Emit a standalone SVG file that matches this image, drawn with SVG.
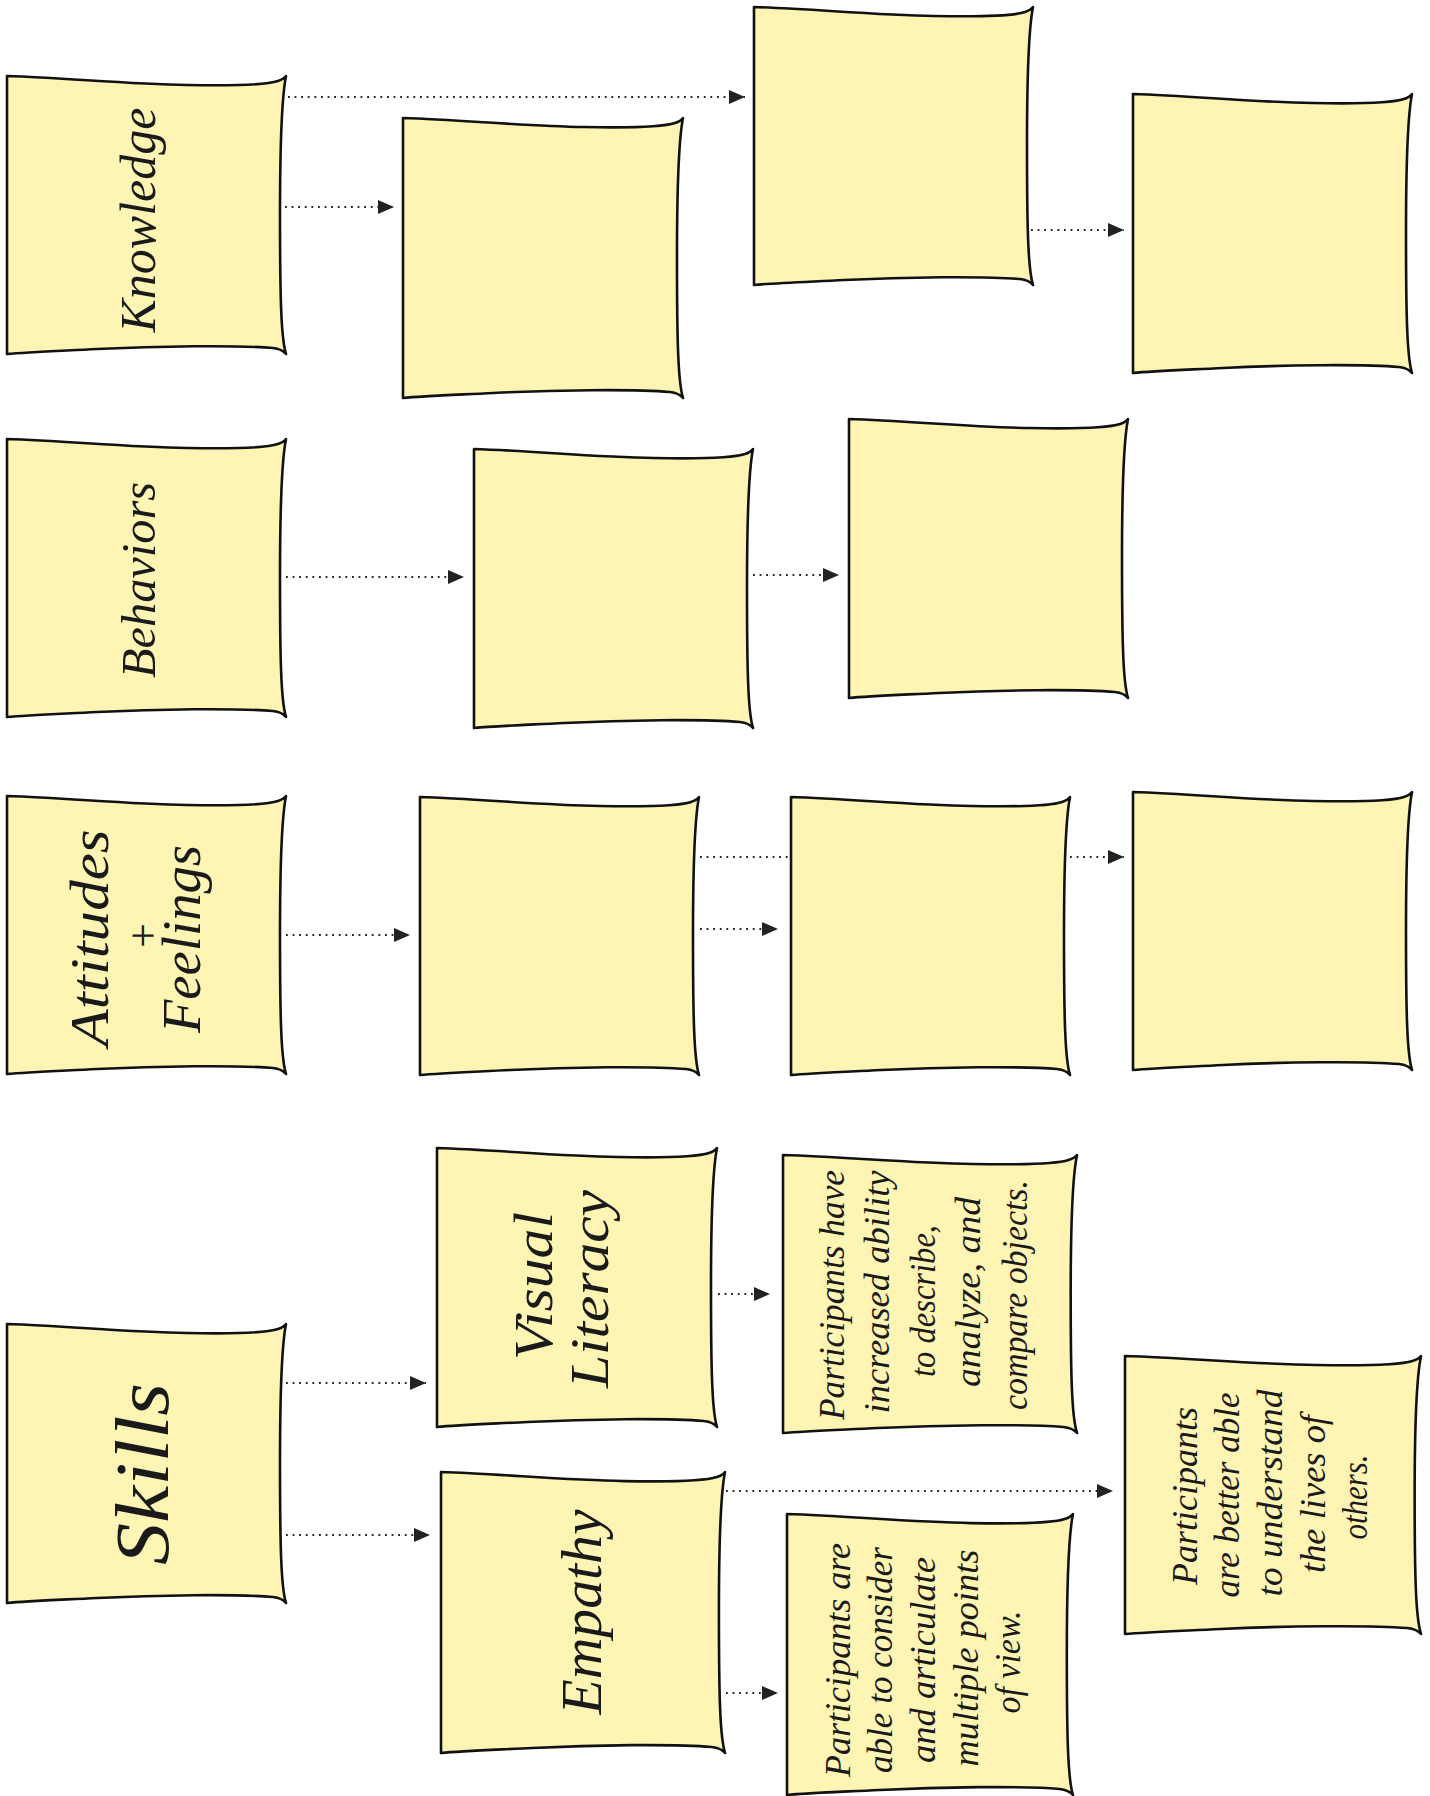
<svg xmlns="http://www.w3.org/2000/svg" xmlns:xlink="http://www.w3.org/1999/xlink" width="1430" height="1796" viewBox="0 0 1430 1796">
<style>
.note{fill:#FEF4B3;stroke:#111;stroke-width:2.6;stroke-linejoin:round;vector-effect:non-scaling-stroke}
.hand{font-family:"Liberation Serif","DejaVu Serif",serif;font-style:italic;fill:#1a1a1a;text-anchor:middle}
.conn{stroke:#222;stroke-width:1.8;stroke-dasharray:1.8 4.8;fill:none}
</style>
<defs>
<path id="note" class="note" d="M0,0 C60,2 120,8 180,9 C230,10 262,8 271,5 Q277,3 279,0 C275,20 273,60 273,139 C273,220 274,262 279,278 Q275,273 266,272 C230,269 150,270 90,273 C50,275 20,276 0,278 Z"/>
<marker id="arr" markerUnits="userSpaceOnUse" markerWidth="16" markerHeight="14" viewBox="0 0 16 14" refX="16" refY="7" orient="auto">
<path d="M0,0 L16,7 L0,14 Z" fill="#222"/>
</marker>
</defs>
<rect width="1430" height="1796" fill="#fff"/>
<g id="connectors">
<line class="conn" x1="288" y1="97" x2="745" y2="97" marker-end="url(#arr)"/>
<line class="conn" x1="285" y1="207" x2="394" y2="207" marker-end="url(#arr)"/>
<line class="conn" x1="1031" y1="230" x2="1124" y2="230" marker-end="url(#arr)"/>
<line class="conn" x1="286" y1="577" x2="464" y2="577" marker-end="url(#arr)"/>
<line class="conn" x1="753" y1="575" x2="839" y2="575" marker-end="url(#arr)"/>
<line class="conn" x1="286" y1="935" x2="410" y2="935" marker-end="url(#arr)"/>
<line class="conn" x1="700" y1="857" x2="812" y2="857" marker-end="url(#arr)"/>
<line class="conn" x1="700" y1="929" x2="778" y2="929" marker-end="url(#arr)"/>
<line class="conn" x1="1070" y1="857" x2="1124" y2="857" marker-end="url(#arr)"/>
<line class="conn" x1="286" y1="1383" x2="426" y2="1383" marker-end="url(#arr)"/>
<line class="conn" x1="286" y1="1535" x2="430" y2="1535" marker-end="url(#arr)"/>
<line class="conn" x1="718" y1="1294" x2="770" y2="1294" marker-end="url(#arr)"/>
<line class="conn" x1="726" y1="1491" x2="1113" y2="1491" marker-end="url(#arr)"/>
<line class="conn" x1="726" y1="1693" x2="778" y2="1693" marker-end="url(#arr)"/>
</g>
<g id="knowledge">
<use xlink:href="#note" transform="translate(7,76)"/>
<text class="hand" font-size="50" textLength="225" lengthAdjust="spacingAndGlyphs" transform="translate(155,220) rotate(-90)">Knowledge</text>
</g>
<g id="knowledge-2"><use xlink:href="#note" transform="translate(403,118) scale(1.0036,1.0072)"/></g>
<g id="knowledge-3"><use xlink:href="#note" transform="translate(754,7)"/></g>
<g id="knowledge-4"><use xlink:href="#note" transform="translate(1133,94) scale(1,1.0036)"/></g>
<g id="behaviors">
<use xlink:href="#note" transform="translate(7,439)"/>
<text class="hand" font-size="48" textLength="196" lengthAdjust="spacingAndGlyphs" transform="translate(155,580) rotate(-90)">Behaviors</text>
</g>
<g id="behaviors-2"><use xlink:href="#note" transform="translate(474,449) scale(1,1.0036)"/></g>
<g id="behaviors-3"><use xlink:href="#note" transform="translate(849,419) scale(1,1.0036)"/></g>
<g id="attitudes">
<use xlink:href="#note" transform="translate(7,796)"/>
<text class="hand" font-size="54" textLength="217" lengthAdjust="spacingAndGlyphs" transform="translate(108,938) rotate(-90)">Attitudes</text>
<text class="hand" font-size="44" transform="translate(158,936) rotate(-90)">+</text>
<text class="hand" font-size="54" textLength="188" lengthAdjust="spacingAndGlyphs" transform="translate(200,939) rotate(-90)">Feelings</text>
</g>
<g id="attitudes-2"><use xlink:href="#note" transform="translate(420,797)"/></g>
<g id="attitudes-3"><use xlink:href="#note" transform="translate(791,797)"/></g>
<g id="attitudes-4"><use xlink:href="#note" transform="translate(1133,792)"/></g>
<g id="skills">
<use xlink:href="#note" transform="translate(7,1324) scale(1,1.0036)"/>
<text class="hand" font-size="76" textLength="182" lengthAdjust="spacingAndGlyphs" transform="translate(168,1474) rotate(-90)">Skills</text>
</g>
<g id="visual-literacy">
<use xlink:href="#note" transform="translate(437,1148) scale(1.0036,1.0036)"/>
<text class="hand" font-size="54" textLength="148" lengthAdjust="spacingAndGlyphs" transform="translate(552,1286) rotate(-90)">Visual</text>
<text class="hand" font-size="54" textLength="198" lengthAdjust="spacingAndGlyphs" transform="translate(608,1289) rotate(-90)">Literacy</text>
</g>
<g id="visual-literacy-outcome">
<use xlink:href="#note" transform="translate(783,1155) scale(1.0538,1)"/>
<text class="hand" font-size="36" textLength="250" lengthAdjust="spacingAndGlyphs" transform="translate(844,1295) rotate(-90)">Participants have</text>
<text class="hand" font-size="36" textLength="243" lengthAdjust="spacingAndGlyphs" transform="translate(889,1292) rotate(-90)">increased ability</text>
<text class="hand" font-size="36" textLength="152" lengthAdjust="spacingAndGlyphs" transform="translate(935,1301) rotate(-90)">to describe,</text>
<text class="hand" font-size="36" textLength="190" lengthAdjust="spacingAndGlyphs" transform="translate(980,1292) rotate(-90)">analyze, and</text>
<text class="hand" font-size="36" textLength="230" lengthAdjust="spacingAndGlyphs" transform="translate(1027,1295) rotate(-90)">compare objects.</text>
</g>
<g id="empathy">
<use xlink:href="#note" transform="translate(441,1472) scale(1.018,1.0108)"/>
<text class="hand" font-size="58" textLength="205" lengthAdjust="spacingAndGlyphs" transform="translate(601,1612) rotate(-90)">Empathy</text>
</g>
<g id="empathy-outcome">
<use xlink:href="#note" transform="translate(787,1514) scale(1.025,1.0108)"/>
<text class="hand" font-size="36" textLength="234" lengthAdjust="spacingAndGlyphs" transform="translate(850,1660) rotate(-90)">Participants are</text>
<text class="hand" font-size="36" textLength="226" lengthAdjust="spacingAndGlyphs" transform="translate(892,1660) rotate(-90)">able to consider</text>
<text class="hand" font-size="36" textLength="206" lengthAdjust="spacingAndGlyphs" transform="translate(935,1660) rotate(-90)">and articulate</text>
<text class="hand" font-size="36" textLength="217" lengthAdjust="spacingAndGlyphs" transform="translate(978,1658) rotate(-90)">multiple points</text>
<text class="hand" font-size="36" textLength="103" lengthAdjust="spacingAndGlyphs" transform="translate(1020,1662) rotate(-90)">of view.</text>
</g>
<g id="empathy-outcome-2">
<use xlink:href="#note" transform="translate(1125,1356) scale(1.061,1)"/>
<text class="hand" font-size="36" textLength="178" lengthAdjust="spacingAndGlyphs" transform="translate(1197,1496) rotate(-90)">Participants</text>
<text class="hand" font-size="36" textLength="205" lengthAdjust="spacingAndGlyphs" transform="translate(1239,1495) rotate(-90)">are better able</text>
<text class="hand" font-size="36" textLength="207" lengthAdjust="spacingAndGlyphs" transform="translate(1282,1493) rotate(-90)">to understand</text>
<text class="hand" font-size="36" textLength="158" lengthAdjust="spacingAndGlyphs" transform="translate(1325,1494) rotate(-90)">the lives of</text>
<text class="hand" font-size="36" textLength="85" lengthAdjust="spacingAndGlyphs" transform="translate(1367,1497) rotate(-90)">others.</text>
</g>
</svg>
